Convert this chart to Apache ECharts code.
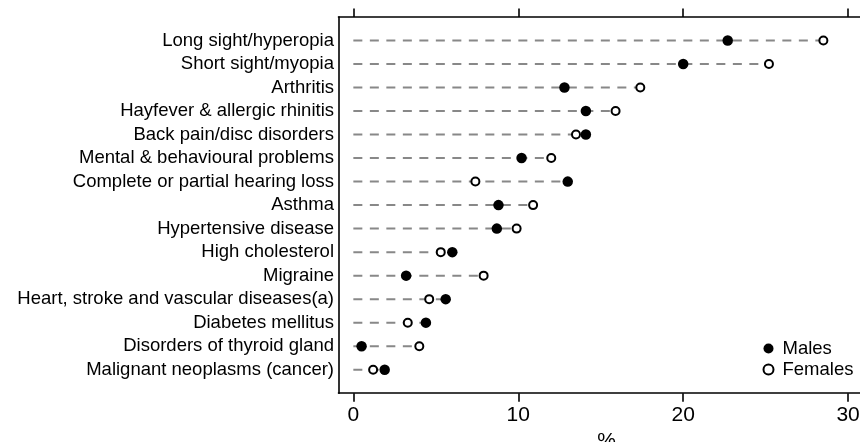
<!DOCTYPE html>
<html>
<head>
<meta charset="utf-8">
<script src="https://cdn.jsdelivr.net/npm/echarts@6/dist/echarts.min.js"></script>
<style>html,body{margin:0;padding:0;background:#fff;}#c{width:860px;height:442px;}</style>
</head>
<body>
<div id="c"></div>
<script>
const categories = [
  'Long sight/hyperopia',
  'Short sight/myopia',
  'Arthritis',
  'Hayfever & allergic rhinitis',
  'Back pain/disc disorders',
  'Mental & behavioural problems',
  'Complete or partial hearing loss',
  'Asthma',
  'Hypertensive disease',
  'High cholesterol',
  'Migraine',
  'Heart, stroke and vascular diseases(a)',
  'Diabetes mellitus',
  'Disorders of thyroid gland',
  'Malignant neoplasms (cancer)'
];
const males   = [22.7, 20.0, 12.8, 14.1, 14.1, 10.2, 13.0, 8.8, 8.7, 6.0, 3.2, 5.6, 4.4, 0.5, 1.9];
const females = [28.5, 25.2, 17.4, 15.9, 13.5, 12.0, 7.4, 10.9, 9.9, 5.3, 7.9, 4.6, 3.3, 4.0, 1.2];
const xTicks = [0, 10, 20, 30];

const FONT = 'Liberation Sans';
const yData = [''].concat(categories, ['']);
const maleData = males.map((v, i) => [v, i + 1]);
const femaleData = females.map((v, i) => [v, i + 1]);
const lineData = males.map((v, i) => [Math.max(v, females[i]), i + 1]);

const chart = echarts.init(document.getElementById('c'), null, {renderer: 'canvas'});
chart.setOption({
  animation: false,
  backgroundColor: '#fff',
  grid: {left: 338.5, top: 17, width: 536, height: 376.2, containLabel: false, outerBoundsMode: 'none'},
  xAxis: [{
    type: 'value', position: 'bottom', min: -0.9, max: 31.6,
    axisLine: {show: true, onZero: false, lineStyle: {color: '#000', width: 1.6}},
    axisTick: {show: true, length: 8.5, customValues: xTicks, lineStyle: {color: '#000', width: 1.6}},
    axisLabel: {show: true, customValues: xTicks, margin: 12, fontFamily: FONT, fontSize: 21, color: '#000'},
    splitLine: {show: false},
    name: '%', nameLocation: 'middle', nameGap: 38,
    nameTextStyle: {fontFamily: FONT, fontSize: 21, color: '#000'}
  }, {
    type: 'value', position: 'top', min: -0.9, max: 31.6,
    axisLine: {show: true, onZero: false, lineStyle: {color: '#000', width: 1.6}},
    axisTick: {show: true, length: 8.5, customValues: xTicks, lineStyle: {color: '#000', width: 1.6}},
    axisLabel: {show: false},
    splitLine: {show: false}
  }],
  yAxis: {
    type: 'category', data: yData, inverse: true, boundaryGap: false,
    axisLine: {show: true, onZero: false, lineStyle: {color: '#000', width: 1.6}},
    axisTick: {show: false},
    axisLabel: {fontFamily: FONT, fontSize: 18.5, color: '#000', margin: 4.5, interval: 0},
    splitLine: {show: false}
  },
  legend: {
    data: ['Males', 'Females'],
    orient: 'vertical', left: 762.5, top: 339, padding: 0,
    itemWidth: 18, itemHeight: 10, itemGap: 2,
    textStyle: {fontFamily: FONT, fontSize: 18.5, color: '#000', lineHeight: 18}
  },
  series: [{
    type: 'custom', name: 'lines', silent: true, z: 1,
    data: lineData,
    renderItem: function (params, api) {
      const y = api.value(1);
      const p0 = api.coord([0, y]);
      const p1 = api.coord([api.value(0), y]);
      return {type: 'line', shape: {x1: p0[0], y1: p0[1], x2: p1[0], y2: p1[1]},
        style: {stroke: '#888', lineWidth: 2, lineDash: [9, 7.5]}};
    }
  }, {
    type: 'scatter', name: 'Females', z: 3, symbol: 'circle', symbolSize: 8,
    itemStyle: {color: '#fff', borderColor: '#000', borderWidth: 2, opacity: 1},
    data: femaleData
  }, {
    type: 'scatter', name: 'Males', z: 4, symbol: 'circle', symbolSize: 10.5,
    itemStyle: {color: '#000', opacity: 1},
    data: maleData
  }]
});
</script>
</body>
</html>
